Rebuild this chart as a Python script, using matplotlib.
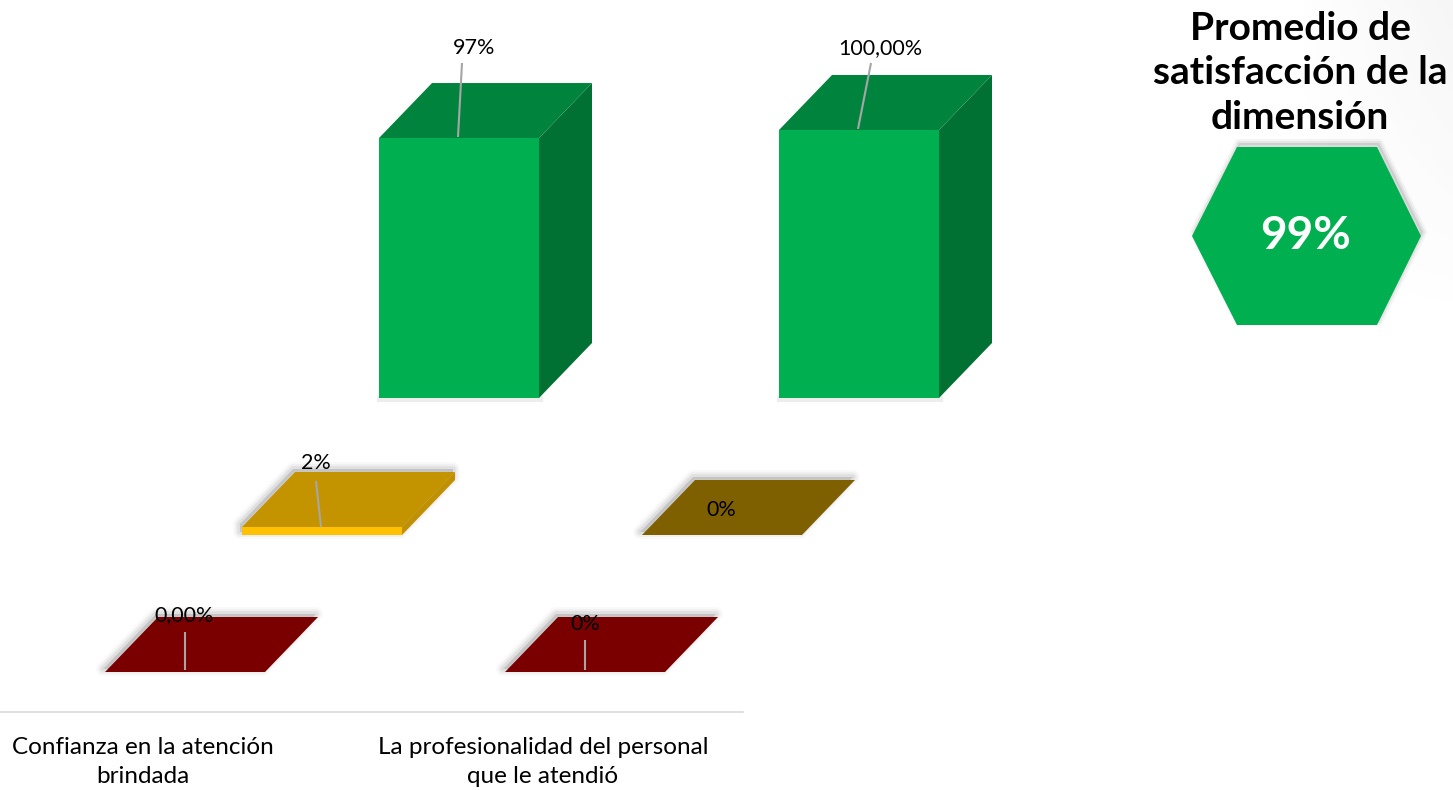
import matplotlib
matplotlib.use("Agg")
import matplotlib.pyplot as plt
from matplotlib.patches import Polygon
import numpy as np

plt.rcParams['font.family'] = ['Lato', 'DejaVu Sans']

# ---------------- data ----------------
categories = ["Confianza en la atención\nbrindada", "La profesionalidad del personal\nque le atendió"]
series_names = ["Insatisfecho", "Regular", "Satisfecho"]          # front -> back rows
values = {
    "Insatisfecho": [0.0, 0.0],
    "Regular": [2.0, 0.0],
    "Satisfecho": [97.0, 100.0],
}
value_labels = {
    "Insatisfecho": ["0,00%", "0%"],
    "Regular": ["2%", "0%"],
    "Satisfecho": ["97%", "100,00%"],
}
title_text = "Promedio de\nsatisfacción de la\ndimensión"
average_label = "99%"

# ---------------- styles ----------------
front_col = {"Insatisfecho": ["#7F0000", "#7F0000"],
             "Regular": ["#FFC000", "#7F6000"],
             "Satisfecho": ["#00B050", "#00B050"]}
top_col = {"Insatisfecho": ["#7A0000", "#7A0000"],
           "Regular": ["#C49400", "#7F6000"],
           "Satisfecho": ["#00843D", "#00843D"]}
side_col = {"Insatisfecho": ["#5A0000", "#5A0000"],
            "Regular": ["#C09000", "#5F4800"],
            "Satisfecho": ["#007033", "#007033"]}

W, H = 1453, 790
fig = plt.figure(figsize=(W / 100, H / 100), dpi=100)
ax = fig.add_axes([0, 0, 1, 1])
ax.set_xlim(0, W)
ax.set_ylim(H, 0)
ax.axis('off')

# faint slide background gradient top-right
g = np.zeros((100, 100, 4))
xx, yy = np.meshgrid(np.linspace(0, 1, 100), np.linspace(0, 1, 100))
a = np.clip((xx - 0.6) * 1.5, 0, 1) * np.clip(1 - yy * 1.3, 0, 1) * 0.10
g[..., 0] = g[..., 1] = g[..., 2] = 0.4
g[..., 3] = a
ax.imshow(g, extent=[1050, W, 420, 0], aspect='auto', zorder=0)

# projection layout
x0, y0 = 105, 672           # front-left-bottom of first bar, front row
cat_step = 400
row_dx, row_dy = 137, -137
bar_w = 160
dep_dx, dep_dy = 53, -55
px_per_pct = 268 / 100.0


def shadow(poly_pts, zorder):
    for off, alpha in [(10, 0.025), (7, 0.04), (4, 0.06)]:
        p = Polygon(poly_pts, closed=True, facecolor='#000000', edgecolor='#000000',
                    linewidth=off, alpha=alpha, joinstyle='round', zorder=zorder)
        p.set_transform(matplotlib.transforms.Affine2D().translate(-2, -3) + ax.transData)
        ax.add_patch(p)


for r in range(len(series_names) - 1, -1, -1):
    s = series_names[r]
    for c in range(len(categories)):
        v = values[s][c]
        h = max(v * px_per_pct, 0.0)
        if s == "Regular" and v > 0:
            h = max(h, 8)
        bx = x0 + c * cat_step + r * row_dx
        by = y0 + r * row_dy
        zb = 10 + (len(series_names) - r) * 10
        front = [(bx, by), (bx + bar_w, by), (bx + bar_w, by - h), (bx, by - h)]
        top = [(bx, by - h), (bx + bar_w, by - h), (bx + bar_w + dep_dx, by - h + dep_dy),
               (bx + dep_dx, by - h + dep_dy)]
        side = [(bx + bar_w, by), (bx + bar_w + dep_dx, by + dep_dy),
                (bx + bar_w + dep_dx, by - h + dep_dy), (bx + bar_w, by - h)]
        outline = [(bx, by), (bx + bar_w, by), (bx + bar_w + dep_dx, by + dep_dy),
                   (bx + bar_w + dep_dx, by - h + dep_dy), (bx + dep_dx, by - h + dep_dy),
                   (bx, by - h)]
        if h < 20:
            shadow(outline, zb)
        else:
            ax.add_patch(Polygon([(bx - 2, by - 2), (bx + bar_w + 4, by - 2), (bx + bar_w + 4, by + 4),
                                  (bx - 2, by + 4)], closed=True, facecolor='#000000', alpha=0.07,
                                 edgecolor='none', zorder=zb))
        ax.add_patch(Polygon(side, closed=True, facecolor=side_col[s][c], edgecolor='none', zorder=zb + 1))
        ax.add_patch(Polygon(top, closed=True, facecolor=top_col[s][c], edgecolor='none', zorder=zb + 2))
        if h > 0:
            ax.add_patch(Polygon(front, closed=True, facecolor=front_col[s][c], edgecolor='none',
                                 zorder=zb + 3))

# data labels with leader lines (label pos, leader from, leader to)
label_pos = {
    ("Satisfecho", 0): ((474, 48), (462, 63), (458, 137)),
    ("Satisfecho", 1): ((880, 48), (871, 63), (858, 129)),
    ("Regular", 0): ((316, 463), (316, 481), (321, 527)),
    ("Regular", 1): ((721, 510), None, None),
    ("Insatisfecho", 0): ((184, 615), (185, 632), (185, 670)),
    ("Insatisfecho", 1): ((585, 624), (585, 640), (585, 670)),
}
for (s, c), (pos, p1, p2) in label_pos.items():
    ax.text(pos[0], pos[1], value_labels[s][c], ha='center', va='center', fontsize=15.5,
            color='#000000', zorder=100)
    if p1 is not None:
        ax.plot([p1[0], p2[0]], [p1[1], p2[1]], color='#A6A6A6', lw=1.5, zorder=99,
                solid_capstyle='butt')

# category axis
ax.plot([0, 743], [712, 712], color='#D9D9D9', lw=1.2, zorder=5)
for c, name in enumerate(categories):
    cx = 143 + c * 400
    ax.text(cx, 762, name, ha='center', va='center', fontsize=17.5, color='#000000',
            linespacing=1.42)

# title and hexagon
ax.text(1300, 73, title_text, ha='center', va='center', fontsize=28, fontweight='bold',
        color='#000000', linespacing=1.33)
hexa = [(1192, 236), (1237, 147), (1377, 147), (1421, 236), (1377, 325), (1237, 325)]
for lw, al in [(6, 0.04), (3, 0.06)]:
    sh = Polygon(hexa, closed=True, facecolor='#000000', edgecolor='#000000', lw=lw, alpha=al,
                 joinstyle='round', zorder=5)
    sh.set_transform(matplotlib.transforms.Affine2D().translate(2, -4) + ax.transData)
    ax.add_patch(sh)
ax.add_patch(Polygon(hexa, closed=True, facecolor='#00B050', edgecolor='none', zorder=6))
ax.text(1306, 236, average_label, ha='center', va='center', fontsize=33, fontweight='bold',
        color='white', zorder=7)

fig.savefig("out.png", dpi=100, facecolor='white')
